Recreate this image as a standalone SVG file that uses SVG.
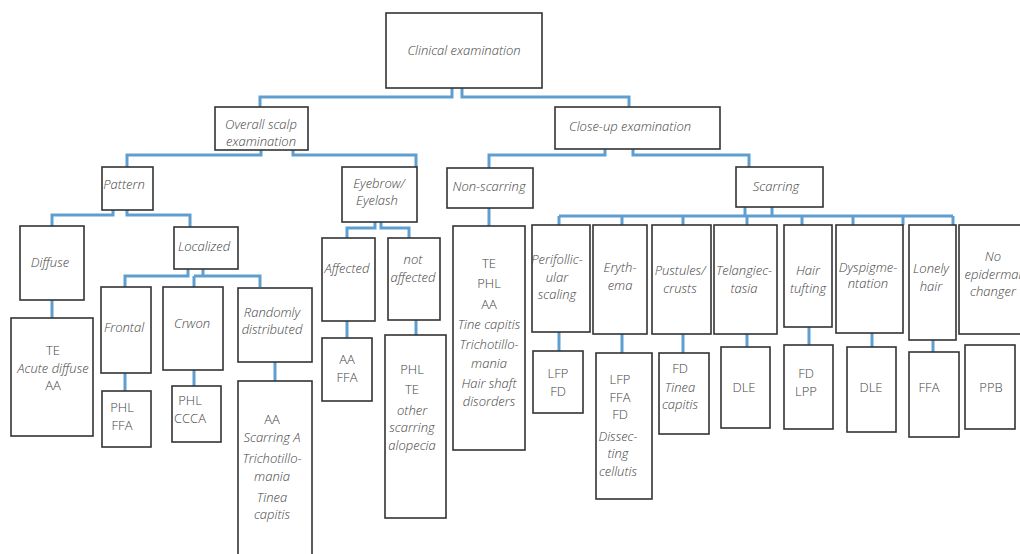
<svg xmlns="http://www.w3.org/2000/svg" width="1020" height="554" viewBox="0 0 1020 554">
<style>
rect{fill:#fff;stroke:#333;stroke-width:1.6}
text{font-family:"Open Sans","Liberation Sans",sans-serif;font-size:13px;font-weight:300;fill:#444;text-anchor:middle}
.i{font-style:italic}
#connectors path{fill:none;stroke:#5e9fd0;stroke-width:3}
</style>
<rect x="0" y="0" width="1020" height="554" style="fill:#fff;stroke:none"/>
<g id="connectors">
<path d="M452,88V97H260V107M462,88V97H629V107"/>
<path d="M261,150V155H127V167M293,150V155H416V167"/>
<path d="M605,149V155H489V168M633,149V155H749V167"/>
<path d="M113,210V215H52V226M127,210V215H190V227"/>
<path d="M188,269V276H125V287M203,269V276M194,276H260V287M194,276V287"/>
<path d="M375,222V228H347V238M381,222V228H409V238"/>
<path d="M489,208V226"/>
<path d="M745,207V216M772,207V216M559,216H953M559,216V225M622,216V225M683,216V225M747,216V225M802,216V225M853,216V225M903,216V225M953,216V225"/>
<path d="M52,300V318M125,373V391M194,370V386M275,362V381M347,321V338M416,320V335"/>
<path d="M559,332V351M622,334V353M683,334V353M747,334V347M809,327V345M872,333V347M933,340V352"/>
</g>
<g id="clinical"><rect x="386" y="13" width="156" height="75"/><text class="i" x="464" y="55">Clinical examination</text></g>
<g id="overall"><rect x="215" y="107" width="93" height="43"/><text class="i" x="261" y="129">Overall scalp</text><text class="i" x="261" y="146">examination</text></g>
<g id="closeup"><rect x="555" y="107" width="165" height="42"/><text class="i" x="630" y="131">Close-up examination</text></g>
<g id="pattern"><rect x="102" y="167" width="51" height="43"/><text class="i" x="124" y="189">Pattern</text></g>
<g id="eyebrow"><rect x="342" y="167" width="75" height="55"/><text class="i" x="379" y="188">Eyebrow/</text><text class="i" x="377" y="205">Eyelash</text></g>
<g id="nonscarring"><rect x="447" y="168" width="86" height="40"/><text class="i" x="489" y="191">Non-scarring</text></g>
<g id="scarring"><rect x="736" y="167" width="87" height="40"/><text class="i" x="776" y="191">Scarring</text></g>
<g id="diffuse"><rect x="20" y="226" width="64" height="74"/><text class="i" x="50" y="267">Diffuse</text></g>
<g id="localized"><rect x="174" y="227" width="64" height="42"/><text class="i" x="204" y="251">Localized</text></g>
<g id="affected"><rect x="322" y="238" width="53" height="83"/><text class="i" x="347" y="273">Affected</text></g>
<g id="notaffected"><rect x="388" y="238" width="52" height="82"/><text class="i" x="413" y="264">not</text><text class="i" x="413" y="282">affected</text></g>
<g id="nonscarring-result"><rect x="453" y="226" width="72" height="224"/><text x="489" y="268">TE</text><text x="489" y="288">PHL</text><text x="489" y="309">AA</text><text class="i" x="489" y="329">Tine capitis</text><text class="i" x="489" y="349">Trichotillo-</text><text class="i" x="489" y="368">mania</text><text class="i" x="489" y="388">Hair shaft</text><text class="i" x="489" y="406">disorders</text></g>
<g id="perifollicular"><rect x="532" y="225" width="58" height="107"/><text class="i" x="557" y="264">Perifollic-</text><text class="i" x="557" y="282">ular</text><text class="i" x="557" y="299">scaling</text></g>
<g id="erythema"><rect x="593" y="225" width="54" height="109"/><text class="i" x="620" y="272">Eryth-</text><text class="i" x="620" y="290">ema</text></g>
<g id="pustules"><rect x="652" y="225" width="59" height="109"/><text class="i" x="680" y="275">Pustules/</text><text class="i" x="680" y="293">crusts</text></g>
<g id="telangiectasia"><rect x="714" y="225" width="63" height="109"/><text class="i" x="744" y="275">Telangiec-</text><text class="i" x="744" y="293">tasia</text></g>
<g id="hairtufting"><rect x="784" y="225" width="48" height="102"/><text class="i" x="808" y="275">Hair</text><text class="i" x="808" y="293">tufting</text></g>
<g id="dyspigmentation"><rect x="836" y="225" width="67" height="108"/><text class="i" x="868" y="272">Dyspigme-</text><text class="i" x="868" y="288">ntation</text></g>
<g id="lonelyhair"><rect x="909" y="225" width="47" height="115"/><text class="i" x="931" y="273">Lonely</text><text class="i" x="931" y="291">hair</text></g>
<g id="noepidermal"><rect x="959" y="225" width="70" height="109"/><text class="i" x="993" y="261">No</text><text class="i" x="993" y="279">epidermal</text><text class="i" x="993" y="296">changer</text></g>
<g id="frontal"><rect x="101" y="287" width="50" height="86"/><text class="i" x="124" y="332">Frontal</text></g>
<g id="crwon"><rect x="163" y="287" width="60" height="83"/><text class="i" x="192" y="328">Crwon</text></g>
<g id="randomly"><rect x="238" y="288" width="74" height="74"/><text class="i" x="272" y="317">Randomly</text><text class="i" x="272" y="334">distributed</text></g>
<g id="diffuse-result"><rect x="11" y="318" width="82" height="118"/><text x="53" y="355">TE</text><text class="i" x="53" y="373">Acute diffuse</text><text x="53" y="390">AA</text></g>
<g id="frontal-result"><rect x="102" y="391" width="49" height="56"/><text x="122" y="412">PHL</text><text x="122" y="430">FFA</text></g>
<g id="crwon-result"><rect x="172" y="386" width="49" height="56"/><text x="190" y="405">PHL</text><text x="190" y="423">CCCA</text></g>
<g id="randomly-result"><rect x="238" y="381" width="74" height="185"/><text x="272" y="424">AA</text><text class="i" x="272" y="442">Scarring A</text><text class="i" x="272" y="463">Trichotillo-</text><text class="i" x="272" y="481">mania</text><text class="i" x="272" y="502">Tinea</text><text class="i" x="272" y="519">capitis</text></g>
<g id="affected-result"><rect x="322" y="338" width="50" height="63"/><text x="347" y="364">AA</text><text x="347" y="382">FFA</text></g>
<g id="notaffected-result"><rect x="385" y="335" width="61" height="183"/><text x="412" y="374">PHL</text><text x="412" y="394">TE</text><text class="i" x="412" y="415">other</text><text class="i" x="412" y="432">scarring</text><text class="i" x="412" y="450">alopecia</text></g>
<g id="perifollicular-result"><rect x="533" y="351" width="50" height="62"/><text x="558" y="378">LFP</text><text x="558" y="396">FD</text></g>
<g id="erythema-result"><rect x="596" y="353" width="56" height="146"/><text x="620" y="384">LFP</text><text x="620" y="402">FFA</text><text x="620" y="419">FD</text><text class="i" x="618" y="441">Dissec-</text><text class="i" x="618" y="458">ting</text><text class="i" x="618" y="476">cellutis</text></g>
<g id="pustules-result"><rect x="659" y="353" width="50" height="81"/><text x="680" y="373">FD</text><text class="i" x="680" y="392">Tinea</text><text class="i" x="680" y="409">capitis</text></g>
<g id="telangiectasia-result"><rect x="721" y="347" width="49" height="81"/><text x="744" y="392">DLE</text></g>
<g id="hairtufting-result"><rect x="784" y="345" width="49" height="84"/><text x="806" y="378">FD</text><text x="806" y="396">LPP</text></g>
<g id="dyspigmentation-result"><rect x="847" y="347" width="49" height="85"/><text x="871" y="392">DLE</text></g>
<g id="lonelyhair-result"><rect x="909" y="352" width="50" height="85"/><text x="929" y="392">FFA</text></g>
<g id="noepidermal-result"><rect x="965" y="345" width="50" height="84"/><text x="991" y="392">PPB</text></g>
</svg>
